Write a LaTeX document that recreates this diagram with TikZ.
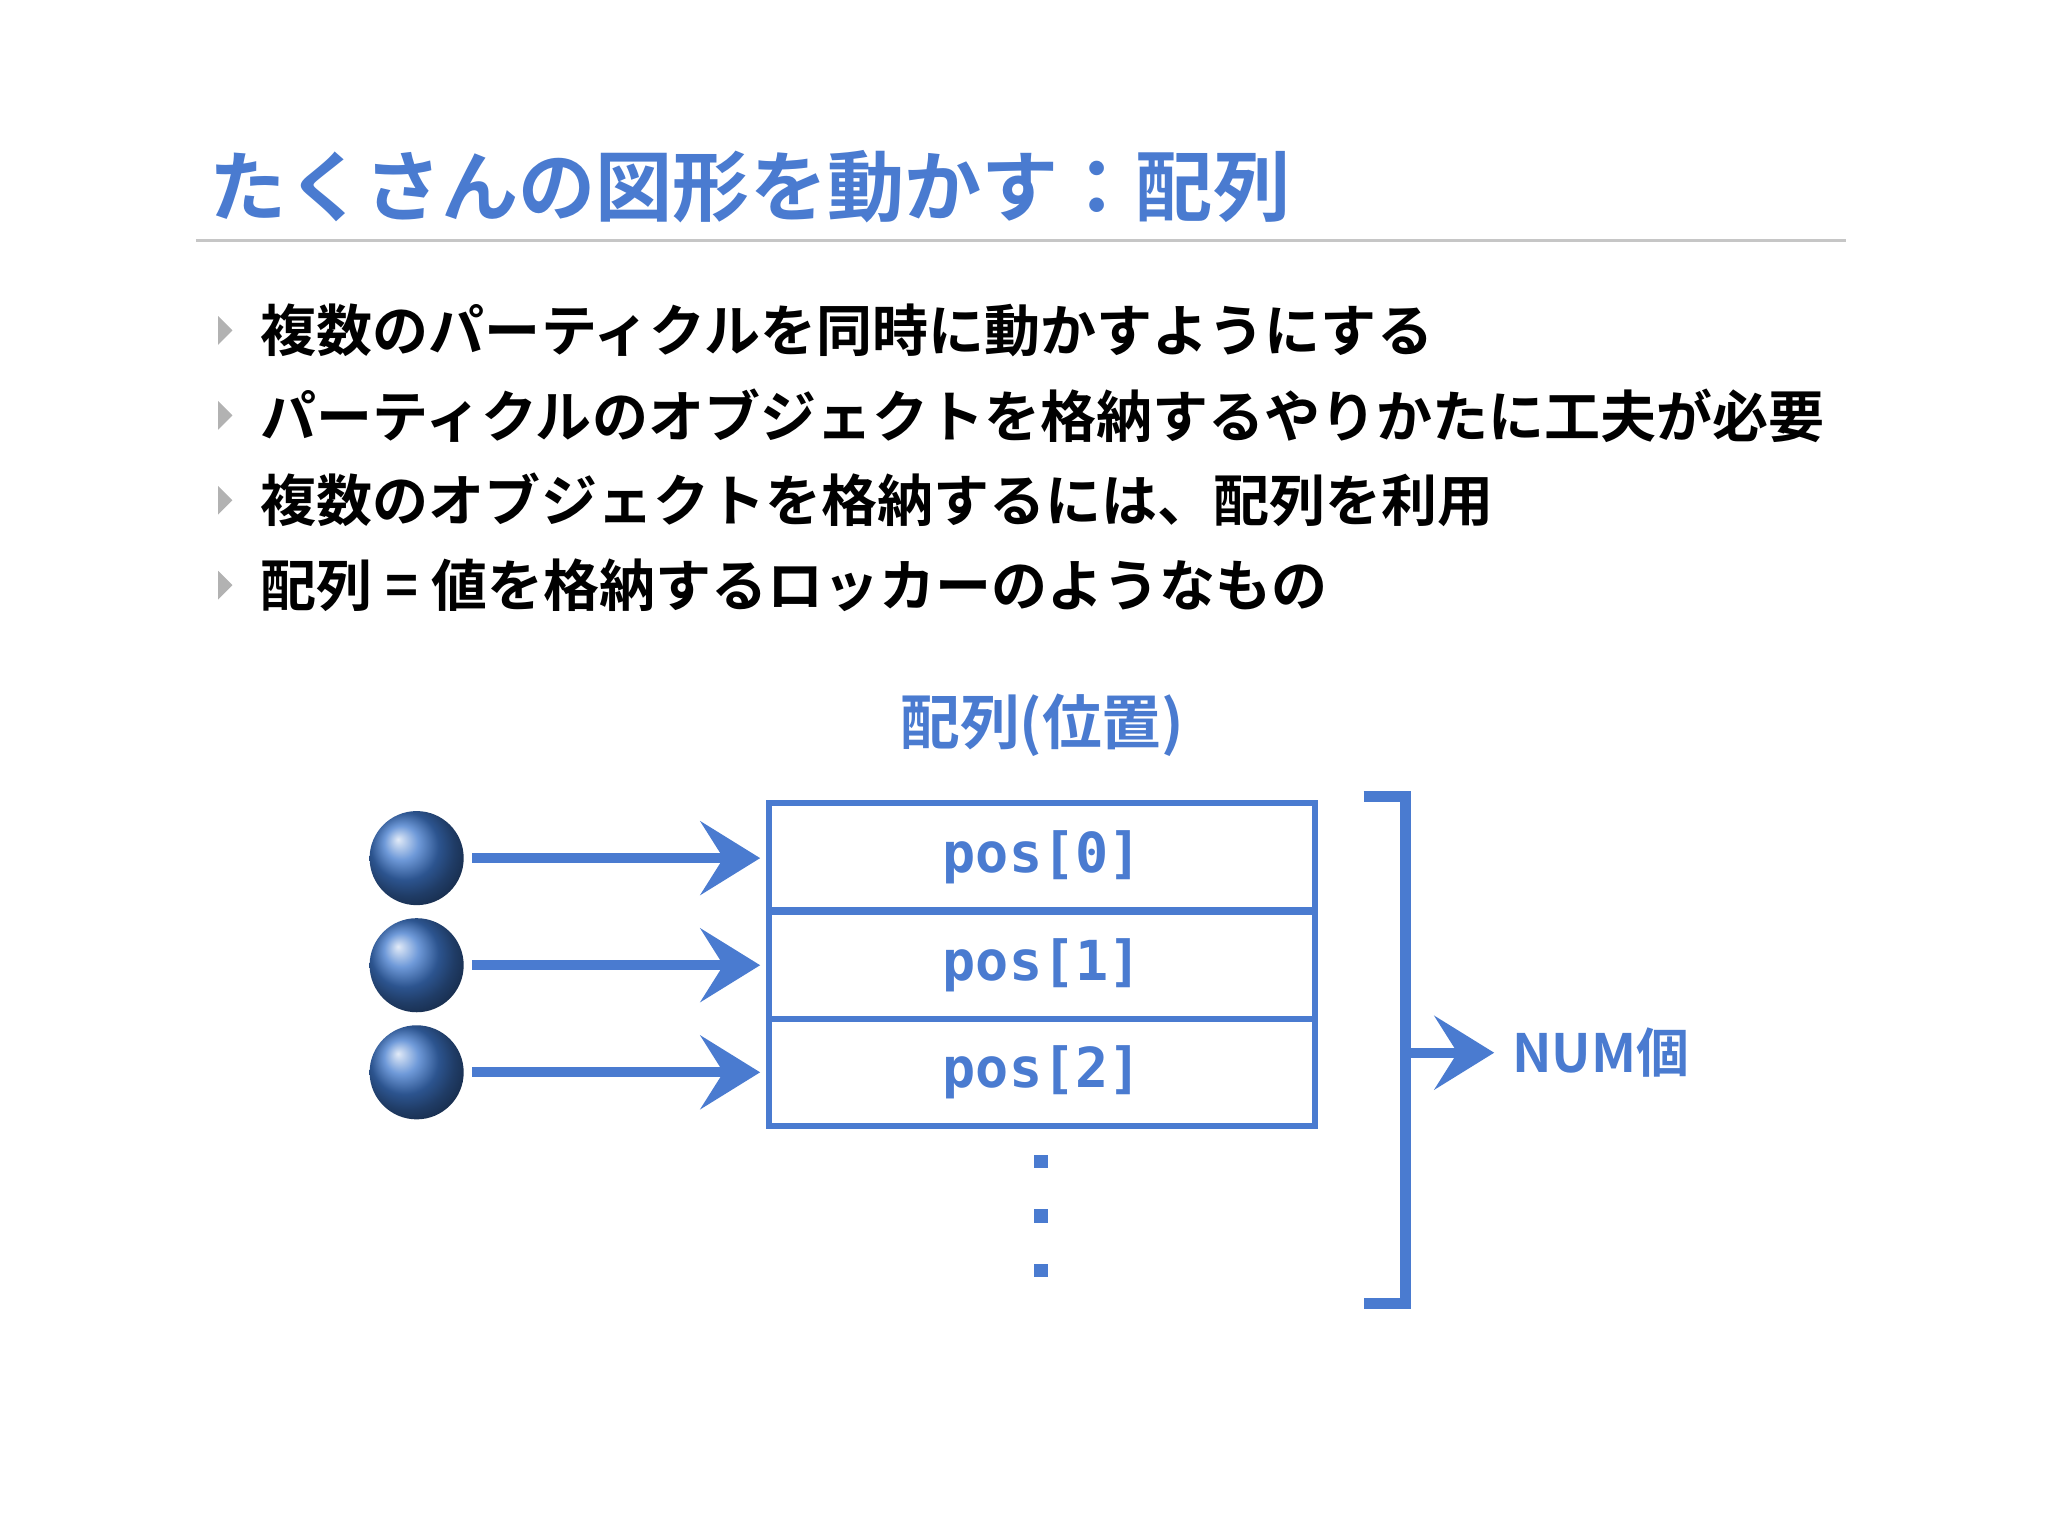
\documentclass[tikz,border=0pt]{standalone}
\usepackage{fontspec}
\newfontfamily\jp{Noto Sans CJK JP Bold}
\newfontfamily\mono{DejaVu Sans Mono Bold}
\usetikzlibrary{arrows.meta}
\definecolor{blu}{HTML}{4A7BD0}
\definecolor{ballc}{HTML}{3F78CC}
\begin{document}
\begin{tikzpicture}[x=0.01cm,y=-0.01cm,
  bul/.style={anchor=west,font=\jp\fontsize{12.2pt}{13pt}\selectfont,inner sep=0},
  tri/.style={fill=gray!60},
  cell/.style={draw=blu,line width=1.3pt,minimum width=4.18cm,minimum height=0.82cm,font=\mono\fontsize{12pt}{13pt}\selectfont,text=blu,inner sep=0},
  ball/.style={circle,minimum size=0.72cm,inner sep=0,ball color=ballc,draw=none},
  arr/.style={draw=blu,line width=2.2pt,-{Stealth[length=13pt,width=16pt,inset=5pt]}},
  dot/.style={fill=blu,minimum size=0.1cm,inner sep=0}]
\useasboundingbox (0,0) rectangle (1568,1176);
\node[anchor=west,inner sep=0,text=blu,font=\jp\fontsize{16.8pt}{17pt}\selectfont] (title) at (160,143) {たくさんの図形を動かす：配列};
\draw[gray!45,line width=0.6pt] (150,184) -- (1413,184);
\foreach \y/\t [count=\i] in {253/複数のパーティクルを同時に動かすようにする,318/パーティクルのオブジェクトを格納するやりかたに工夫が必要,383/複数のオブジェクトを格納するには、配列を利用,448/配列 = 値を格納するロッカーのようなもの}{
  \fill[tri] (167,\y-11) -- (178,\y) -- (167,\y+11) -- cycle;
  \node[bul] (b\i) at (199,\y) {\t};
}
\node[text=blu,font=\jp\fontsize{13pt}{14pt}\selectfont] (lab) at (798,555) {配列(位置)};
\node[cell] (c0) at (798,656) {pos[0]};
\node[cell] (c1) at (798,739) {pos[1]};
\node[cell] (c2) at (798,821) {pos[2]};
\foreach \i/\y in {0/657,1/739,2/821}{
  \node[ball] (s\i) at (319,\y) {};
  \coordinate (e\i) at (582,\y);
  \draw[arr] (s\i.east) ++(6,0) -- (e\i);
}
\node[dot] (d1) at (797,889) {};
\node[dot] (d2) at (797,931) {};
\node[dot] (d3) at (797,973) {};
\coordinate (bt) at (1044,610);
\coordinate (bb) at (1044,998);
\draw[blu,line width=2.5pt] (bt) -- (1076,610) -- (1076,998) -- (bb);
\node[anchor=west,text=blu,inner sep=0,font=\jp\fontsize{11.5pt}{12pt}\selectfont] (num) at (1157,806) {NUM個};
\coordinate (bm) at (1076,806);
\draw[arr] (bm) -- ([xshift=-0.13cm]num.west);
\end{tikzpicture}
\end{document}
